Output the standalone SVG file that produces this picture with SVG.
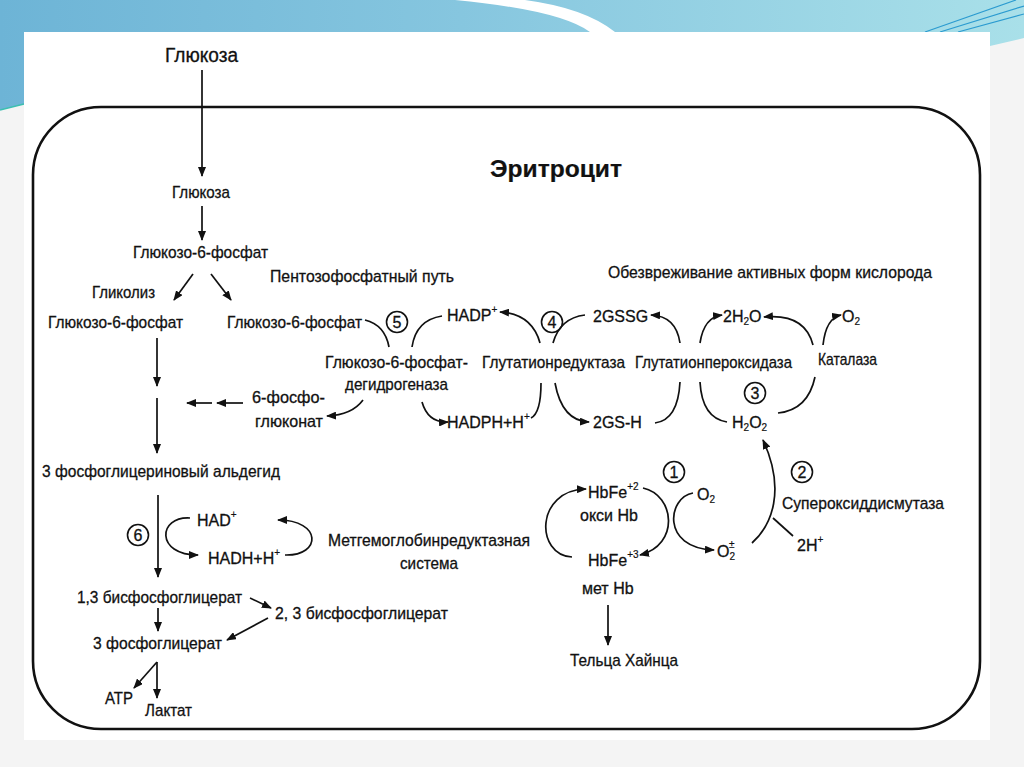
<svg xmlns="http://www.w3.org/2000/svg" width="1024" height="767" viewBox="0 0 1024 767">
<defs>
<linearGradient id="band" x1="0" y1="0" x2="1" y2="0">
<stop offset="0" stop-color="#6db4d6"/>
<stop offset="0.45" stop-color="#86c6df"/>
<stop offset="1" stop-color="#a9e0e9"/>
</linearGradient>
<marker id="ah" markerUnits="userSpaceOnUse" markerWidth="10" markerHeight="8" refX="9" refY="4" orient="auto">
<path d="M0,0 L10,4 L0,8 Z" fill="#111"/>
</marker>
<style>
text{font-family:"Liberation Sans",Arial,sans-serif;font-size:17px;fill:#111;stroke:#111;stroke-width:0.3;}
.big{font-size:20px;}
.title{font-size:24px;font-weight:bold;stroke-width:0.2;}
.n{font-size:16px;text-anchor:middle;}
.sm{font-size:16px;}
.sup{font-size:10px;stroke-width:0.2;}
.c{fill:none;stroke:#111;stroke-width:1.7;}
.a{fill:none;stroke:#111;stroke-width:1.7;marker-end:url(#ah);}
.circ{fill:none;stroke:#111;stroke-width:1.6;}
</style>
</defs>
<rect width="1024" height="767" fill="#f4f4f4"/>
<path d="M0,0 H1024 V38 L990,46 V32 H24 V104 L0,110 Z" fill="url(#band)"/>
<path d="M0,110 L24,104" stroke="#3cbfb0" stroke-width="1.5"/>
<path d="M455,0 Q560,10 590,32 L615,32 Q585,8 525,0 Z" fill="#ffffff"/>
<path d="M925,32 L1016,0 M940,32 L1024,6 M958,32 L1024,14" stroke="#2b9bd0" stroke-width="1.2" fill="none"/>
<rect x="24" y="32" width="966" height="708" fill="#ffffff"/>
<rect x="33" y="107" width="947" height="622" rx="68" ry="68" fill="none" stroke="#111" stroke-width="2.6"/>

<g id="connectors">
<line class="a" x1="202" y1="70" x2="202" y2="176"/>
<line class="a" x1="202" y1="206" x2="202" y2="240"/>
<line class="a" x1="193" y1="274" x2="174" y2="300"/>
<line class="a" x1="211" y1="274" x2="231" y2="300"/>
<line class="a" x1="157" y1="338" x2="157" y2="386"/>
<line class="a" x1="157" y1="398" x2="157" y2="453"/>
<line class="a" x1="243" y1="403" x2="217" y2="403"/>
<line class="a" x1="212" y1="403" x2="187" y2="403"/>
<path class="c" d="M365,320 Q385,325 389,347"/>
<path class="c" d="M412,347 Q416,320 442,316"/>
<path class="a" d="M363,400 Q352,415 327,416"/>
<path class="a" d="M422,402 Q428,423 448,422"/>
<path class="a" d="M540,343 Q532,314 500,312"/>
<path class="c" d="M553,343 Q560,318 585,315"/>
<path class="c" d="M541,383 Q541,413 531,418"/>
<path class="a" d="M555,383 Q562,421 589,422"/>
<path class="a" d="M680,343 Q676,316 651,315"/>
<path class="a" d="M700,343 Q704,317 722,315"/>
<path class="c" d="M680,382 Q678,420 655,423"/>
<path class="c" d="M700,382 Q702,418 727,422"/>
<path class="a" d="M813,345 Q805,313 764,317"/>
<path class="a" d="M823,345 Q826,318 841,315"/>
<path class="c" d="M815,377 Q808,410 778,413"/>
<path class="a" d="M752,543 C772,525 786,490 763,440"/>
<line class="c" x1="773" y1="518" x2="793" y2="536"/>
<path class="a" d="M572,557 C535,555 535,490 586,489"/>
<path class="a" d="M643,488 C675,495 680,545 640,555"/>
<path class="a" d="M693,493 C668,497 660,548 714,550"/>
<line class="a" x1="608" y1="605" x2="608" y2="645"/>
<line class="a" x1="158" y1="495" x2="158" y2="577"/>
<path class="a" d="M190,518 C158,516 155,555 198,555"/>
<path class="a" d="M285,555 C322,556 322,520 278,520"/>
<line class="a" x1="250" y1="598" x2="271" y2="608"/>
<line class="a" x1="268" y1="618" x2="227" y2="640"/>
<line class="a" x1="158" y1="608" x2="158" y2="631"/>
<line class="a" x1="157" y1="662" x2="134" y2="688"/>
<line class="a" x1="157" y1="662" x2="157" y2="698"/>
</g>

<g id="glucose-out"><text class="big" x="165" y="62" textLength="73" lengthAdjust="spacingAndGlyphs">Глюкоза</text></g>
<g id="title"><text class="title" x="490" y="177" textLength="132" lengthAdjust="spacingAndGlyphs">Эритроцит</text></g>
<g id="glucose-in"><text x="172" y="198" textLength="58" lengthAdjust="spacingAndGlyphs">Глюкоза</text></g>
<g id="g6p"><text x="133" y="258" textLength="135" lengthAdjust="spacingAndGlyphs">Глюкозо-6-фосфат</text></g>
<g id="glycolysis"><text x="92" y="298" textLength="63" lengthAdjust="spacingAndGlyphs">Гликолиз</text></g>
<g id="ppp"><text x="270" y="282" textLength="184" lengthAdjust="spacingAndGlyphs">Пентозофосфатный путь</text></g>
<g id="g6p-left"><text x="48" y="328" textLength="135" lengthAdjust="spacingAndGlyphs">Глюкозо-6-фосфат</text></g>
<g id="g6p-right"><text x="227" y="328" textLength="135" lengthAdjust="spacingAndGlyphs">Глюкозо-6-фосфат</text></g>
<g id="ros"><text x="608" y="278" textLength="324" lengthAdjust="spacingAndGlyphs">Обезвреживание активных форм кислорода</text></g>
<g id="nadp"><text class="sm" x="447" y="321">HADP<tspan class="sup" dy="-8">+</tspan></text></g>
<g id="gssg"><text class="sm" x="593" y="322">2GSSG</text></g>
<g id="h2o"><text class="sm" x="723" y="322">2H<tspan class="sup" dy="3">2</tspan><tspan dy="-3">O</tspan></text></g>
<g id="o2-top"><text class="sm" x="842" y="322">O<tspan class="sup" dy="3">2</tspan></text></g>
<g id="g6pdh"><text x="325" y="368" textLength="143" lengthAdjust="spacingAndGlyphs">Глюкозо-6-фосфат-</text><text x="345" y="390" textLength="103" lengthAdjust="spacingAndGlyphs">дегидрогеназа</text></g>
<g id="gr"><text x="482" y="368" textLength="143" lengthAdjust="spacingAndGlyphs">Глутатионредуктаза</text></g>
<g id="gpx"><text x="635" y="368" textLength="157" lengthAdjust="spacingAndGlyphs">Глутатионпероксидаза</text></g>
<g id="catalase"><text x="818" y="365" textLength="59" lengthAdjust="spacingAndGlyphs">Каталаза</text></g>
<g id="phosphogluconate"><text x="252" y="403" textLength="73" lengthAdjust="spacingAndGlyphs">6-фосфо-</text><text x="255" y="427" textLength="68" lengthAdjust="spacingAndGlyphs">глюконат</text></g>
<g id="nadph"><text class="sm" x="447" y="428">HADPH+H<tspan class="sup" dy="-8">+</tspan></text></g>
<g id="gsh"><text class="sm" x="593" y="428">2GS-H</text></g>
<g id="h2o2"><text class="sm" x="732" y="428">H<tspan class="sup" dy="3">2</tspan><tspan dy="-3">O</tspan><tspan class="sup" dy="3">2</tspan></text></g>
<g id="gap"><text x="42" y="477" textLength="238" lengthAdjust="spacingAndGlyphs">3 фосфоглицериновый альдегид</text></g>
<g id="hbfe2"><text class="sm" x="588" y="498">HbFe<tspan class="sup" dy="-8">+2</tspan></text><text class="sm" x="580" y="521">окси Hb</text></g>
<g id="o2-hb"><text class="sm" x="697" y="500">O<tspan class="sup" dy="3">2</tspan></text></g>
<g id="sod"><text x="782" y="509" textLength="162" lengthAdjust="spacingAndGlyphs">Супероксиддисмутаза</text></g>
<g id="nad"><text class="sm" x="197" y="526">HAD<tspan class="sup" dy="-8">+</tspan></text></g>
<g id="metHb-reductase"><text x="328" y="546" textLength="202" lengthAdjust="spacingAndGlyphs">Метгемоглобинредуктазная</text><text x="400" y="569" textLength="58" lengthAdjust="spacingAndGlyphs">система</text></g>
<g id="h2"><text class="sm" x="797" y="551">2H<tspan class="sup" dy="-8">+</tspan></text></g>
<g id="superoxide"><text class="sm" x="717" y="557">O<tspan class="sup" dy="3">2</tspan><tspan class="sup" dx="-6" dy="-12">±</tspan></text></g>
<g id="hbfe3"><text class="sm" x="588" y="566">HbFe<tspan class="sup" dy="-8">+3</tspan></text><text class="sm" x="582" y="594">мет Hb</text></g>
<g id="nadh"><text class="sm" x="208" y="564">HADH+H<tspan class="sup" dy="-8">+</tspan></text></g>
<g id="bpg13"><text x="77" y="603" textLength="165" lengthAdjust="spacingAndGlyphs">1,3 бисфосфоглицерат</text></g>
<g id="bpg23"><text x="275" y="619" textLength="173" lengthAdjust="spacingAndGlyphs">2, 3 бисфосфоглицерат</text></g>
<g id="pg3"><text x="93" y="649" textLength="129" lengthAdjust="spacingAndGlyphs">3 фосфоглицерат</text></g>
<g id="heinz"><text x="570" y="666" textLength="108" lengthAdjust="spacingAndGlyphs">Тельца Хайнца</text></g>
<g id="atp"><text x="105" y="704" textLength="28" lengthAdjust="spacingAndGlyphs">ATP</text></g>
<g id="lactate"><text x="145" y="716" textLength="47" lengthAdjust="spacingAndGlyphs">Лактат</text></g>

<g id="step1"><circle class="circ" cx="674" cy="472" r="10.5"/><text class="n" x="674" y="478">1</text></g>
<g id="step2"><circle class="circ" cx="802" cy="472" r="10.5"/><text class="n" x="802" y="478">2</text></g>
<g id="step3"><circle class="circ" cx="755" cy="393" r="10.5"/><text class="n" x="755" y="399">3</text></g>
<g id="step4"><circle class="circ" cx="552" cy="322" r="10.5"/><text class="n" x="552" y="328">4</text></g>
<g id="step5"><circle class="circ" cx="397" cy="322" r="10.5"/><text class="n" x="397" y="328">5</text></g>
<g id="step6"><circle class="circ" cx="138" cy="535" r="10.5"/><text class="n" x="138" y="541">6</text></g>
</svg>
